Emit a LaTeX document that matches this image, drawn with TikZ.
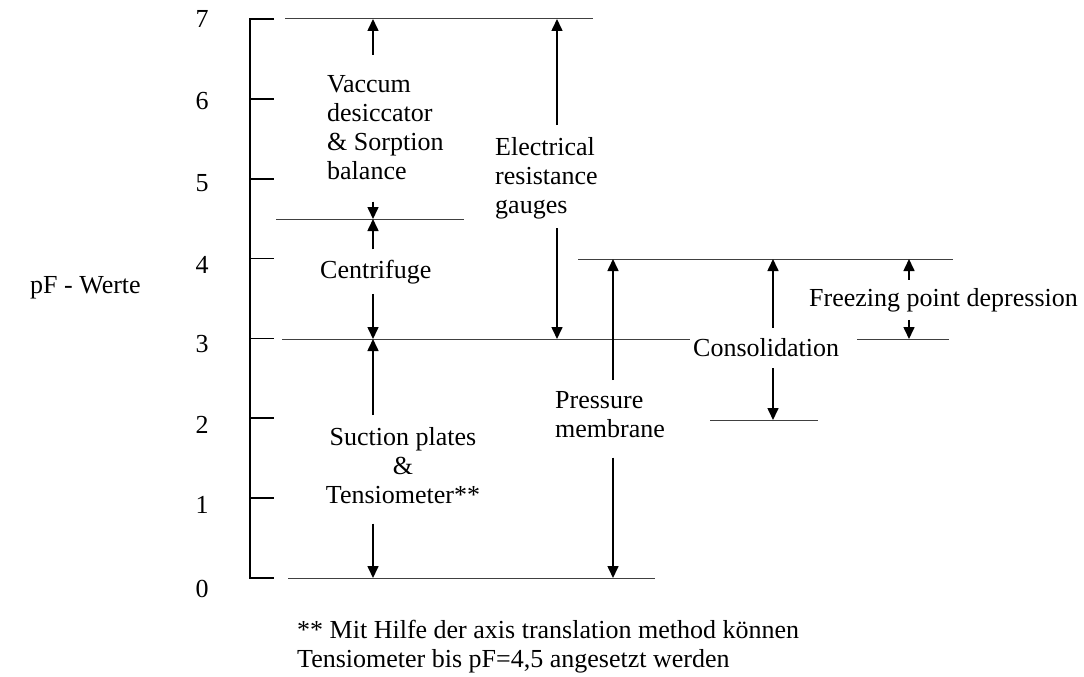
\documentclass[tikz,border=0pt]{standalone}
\usepackage{fontspec}
\setmainfont{Liberation Serif}
\usetikzlibrary{arrows.meta}
\begin{document}
\begin{tikzpicture}[x=1pt,y=-1pt,
  lbl/.style={font=\fontsize{26}{29}\selectfont, inner sep=0pt},
  hline/.style={line width=1pt, draw=black!75},
  axisline/.style={line width=1.6pt, draw=black},
  arr/.style={line width=1.6pt, -{Triangle[width=11pt,length=12pt]}}]
\useasboundingbox (0,0) rectangle (1084,677);

% axis
\draw[axisline] (274,19) -- (250,19) -- (250,578) -- (274,578);
\foreach \v in {1,...,6} \draw[axisline] (250,{578-79.86*\v}) -- (274,{578-79.86*\v});

% axis numbers
\node[lbl,anchor=base] (n7) at (202,28) {7};
\node[lbl,anchor=base] (n6) at (202,110) {6};
\node[lbl,anchor=base] (n5) at (202,191) {5};
\node[lbl,anchor=base] (n4) at (202,273) {4};
\node[lbl,anchor=base] (n3) at (202,352) {3};
\node[lbl,anchor=base] (n2) at (202,433) {2};
\node[lbl,anchor=base] (n1) at (202,513) {1};
\node[lbl,anchor=base] (n0) at (202,597) {0};
\node[lbl,anchor=base west] (pf) at (30,293) {pF - Werte};

% level lines
\coordinate (h7a) at (285,19);  \coordinate (h7b) at (593,19);
\coordinate (h45a) at (276,219); \coordinate (h45b) at (464,219);
\coordinate (h3a) at (282,339); \coordinate (h3b) at (690,339);
\coordinate (h3c) at (857,339); \coordinate (h3d) at (949,339);
\coordinate (h4a) at (578,259); \coordinate (h4b) at (953,259);
\coordinate (h2a) at (710,420); \coordinate (h2b) at (818,420);
\coordinate (h0a) at (288,578); \coordinate (h0b) at (655,578);
\draw[hline] (h7a) -- (h7b);
\draw[hline] (h45a) -- (h45b);
\draw[hline] (h3a) -- (h3b);
\draw[hline] (h3c) -- (h3d);
\draw[hline] (h4a) -- (h4b);
\draw[hline] (h2a) -- (h2b);
\draw[hline] (h0a) -- (h0b);

% arrow targets
\coordinate (va) at (373,19);  \coordinate (vb) at (373,219);
\coordinate (cb) at (373,339);
\coordinate (sb) at (373,578);
\coordinate (ea) at (557,19);  \coordinate (eb) at (557,339);
\coordinate (pa) at (613,259); \coordinate (pb) at (613,578);
\coordinate (ka) at (773,259); \coordinate (kb) at (773,420);
\coordinate (fa) at (909,259); \coordinate (fb) at (909,339);

% labels
\node[lbl,align=left,anchor=north west] (vac) at (327,75) {Vaccum\\desiccator\\\& Sorption\\balance};
\node[lbl,anchor=base west] (cen) at (320,278) {Centrifuge};
\node[lbl,align=center,anchor=north] (suc) at (403,427) {Suction plates\\\&\\Tensiometer**};
\node[lbl,align=left,anchor=north west] (ele) at (495,137) {Electrical\\resistance\\gauges};
\node[lbl,align=left,anchor=north west] (pre) at (555,391) {Pressure\\membrane};
\node[lbl,anchor=base west] (con) at (693,356) {Consolidation};
\node[lbl,anchor=base west] (fre) at (809,306) {Freezing point depression};
\node[lbl,align=left,anchor=north west] (foot) at (297,620) {** Mit Hilfe der axis translation method können\\Tensiometer bis pF=4,5 angesetzt werden};

% arrows
\draw[arr,shorten <=20pt] (vac.north -| va) -- (va);
\draw[arr,shorten <=22pt] (vac.south -| vb) -- (vb);
\draw[arr,shorten <=10pt] (cen.north -| vb) -- (vb);
\draw[arr,shorten <=10pt] (cen.south -| cb) -- (cb);
\draw[arr,shorten <=12pt] (suc.north -| cb) -- (cb);
\draw[arr,shorten <=20pt] (suc.south -| sb) -- (sb);
\draw[arr,shorten <=12pt] (ele.north -| ea) -- (ea);
\draw[arr,shorten <=9pt] (ele.south -| eb) -- (eb);
\draw[arr,shorten <=11pt] (pre.north -| pa) -- (pa);
\draw[arr,shorten <=20pt] (pre.south -| pb) -- (pb);
\draw[arr,shorten <=10pt] (con.north -| ka) -- (ka);
\draw[arr,shorten <=12pt] (con.south -| kb) -- (kb);
\draw[arr,shorten <=8pt] (fre.north -| fa) -- (fa);
\draw[arr,shorten <=8pt] (fre.south -| fb) -- (fb);
\end{tikzpicture}
\end{document}
